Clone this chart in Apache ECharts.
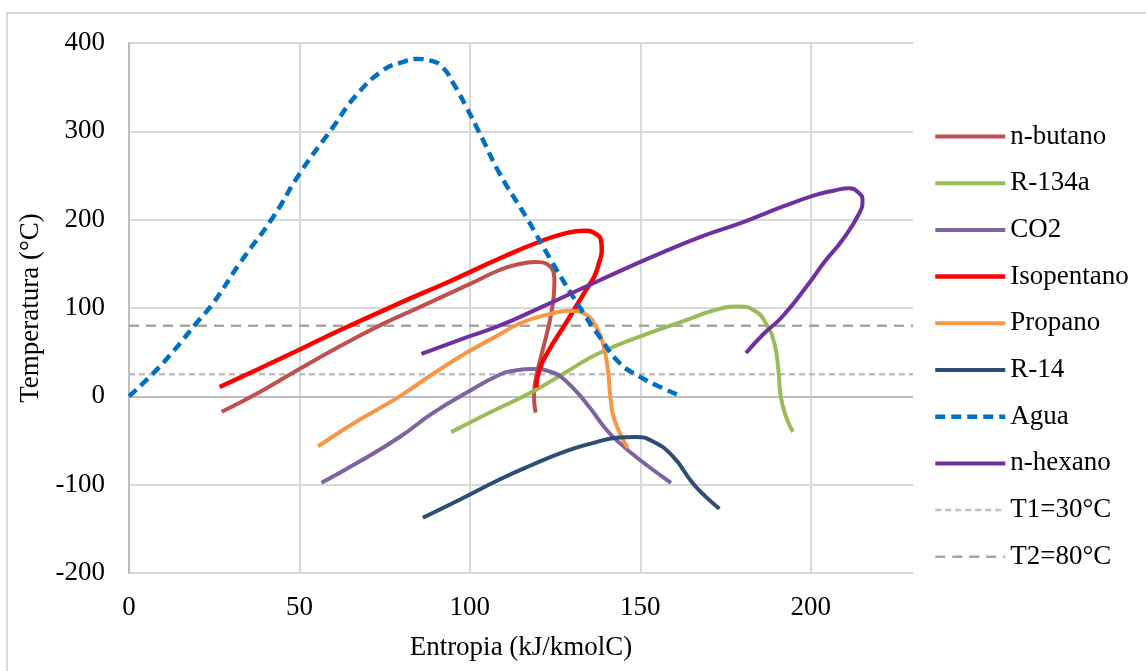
<!DOCTYPE html>
<html>
<head>
<meta charset="utf-8">
<script src="https://cdn.jsdelivr.net/npm/echarts@6/dist/echarts.min.js"></script>
<style>
html, body { margin: 0; padding: 0; background: #fff; }
#main { width: 1146px; height: 671px; }
</style>
</head>
<body>
<div id="main"></div>
<script>
// datos [entropia, temperatura]
var nButano = [[27.2,-17.5],[38,4],[49.1,29],[62,57],[74.5,82],[85.3,101],[99.9,127],[108.7,143],[113.6,149],[119.3,152],[122.9,149],[124.8,130],[124.6,113],[123.3,83],[121.4,53],[119.5,22.6],[118.8,0],[119.3,-18.5]];
var r134a = [[94.5,-40.5],[106,-18],[118.5,5.5],[128,27],[138,49],[152.6,71.6],[162.4,84.8],[172.2,98],[179,101.7],[183.9,96],[186.8,83],[189.3,60.3],[190.5,30.2],[191.2,0],[192.7,-22.6],[194.8,-40.5]];
var co2 = [[56.5,-97.9],[68,-73],[79.4,-46],[89.2,-18.8],[99,4],[108.7,24.5],[113,29],[118.5,31],[123.3,28.2],[127.2,20.8],[134.1,-7.5],[140,-37.6],[143.9,-52.7],[149.7,-71.5],[159,-97.9]];
var isopentano = [[26.6,10.6],[38,31],[50.1,53],[62,75],[79.4,105.5],[94,130],[108.7,156],[120.4,175],[128,184.5],[133.6,187.5],[136.5,185],[138.5,176],[138.7,165],[137.8,150],[136.5,135.6],[134.1,120.6],[128.2,83],[123.3,52.8],[120.4,30],[119.5,10]];
var propano = [[55.5,-56.5],[67,-28],[79.4,0],[89,25],[98.9,49],[108.7,70],[115,83],[123.3,93],[129.2,96.8],[134.1,92.3],[137,79],[139,60.3],[140.5,30],[141.2,0],[142.4,-26.3],[146.3,-58.3]];
var r14 = [[86.2,-137.4],[97,-117],[108.7,-94.1],[118,-78],[128.2,-62.1],[136,-53],[142.9,-47],[148.7,-45.9],[153.6,-50.8],[159.5,-67.8],[165.3,-97.9],[169,-113],[173.2,-127.2]];
var agua = [[0,0],[7.1,26],[13,51],[19.8,83],[24.7,105.5],[32.5,150.7],[42.3,203],[50.1,252.4],[59.9,305],[66.7,341],[74.5,369],[80,378],[84.3,382],[88.5,380],[92.1,372],[95.5,352],[98.9,328],[103.5,293],[108.7,252.4],[116.5,203],[124.3,150.7],[132.1,101.7],[138,67.8],[143.9,37.7],[149.7,22.6],[155,12],[160.9,2]];
var nHexano = [[85.8,48.2],[97,64],[108.7,80],[121,101],[134.1,124.3],[143,140],[152.6,156.4],[167.3,180],[180,197],[191.7,214.7],[201.5,228],[207,233],[211.2,235.5],[214.2,230],[215.2,222],[214.2,207],[209.3,177],[204,152],[199.5,128],[191.7,90.4],[186,70],[181,49]];
var t1 = [[0,25],[230,25]];
var t2 = [[0,80],[230,80]];

var nombres = ['n-butano','R-134a','CO2','Isopentano','Propano','R-14','Agua','n-hexano','T1=30°C','T2=80°C'];
var colores = ['#C0504D','#9BBB59','#8064A2','#FF0000','#F79646','#2C4D75','#0070C0','#7030A0','#BFBFBF','#A6A6A6'];
var datos = [nButano, r134a, co2, isopentano, propano, r14, agua, nHexano, t1, t2];

var fuente = 'Liberation Serif';
var myChart = echarts.init(document.getElementById('main'));

var series = [];
var leyenda = [];
for (var i = 0; i < nombres.length; i++) {
    var tipo = 'solid';
    var ancho = 4;
    if (nombres[i] == 'Agua') { tipo = [10, 6]; ancho = 4.5; }
    if (nombres[i] == 'Isopentano') { ancho = 4.5; }
    if (i == 8) { tipo = [6, 4]; ancho = 2.5; }
    if (i == 9) { tipo = [10, 7]; ancho = 2.5; }
    series.push({
        name: nombres[i],
        type: 'line',
        data: datos[i],
        smooth: i < 8 ? 0.5 : false,
        symbol: 'none',
        color: colores[i],
        lineStyle: { color: colores[i], width: ancho, type: tipo },
        z: i < 8 ? 3 : 2
    });
    leyenda.push({
        name: nombres[i],
        lineStyle: { color: colores[i], width: ancho, type: tipo }
    });
}
// linea del eje en 0
series[0].markLine = {
    silent: true,
    symbol: 'none',
    label: { show: false },
    lineStyle: { color: '#BFBFBF', width: 2, type: 'solid' },
    z: 1,
    data: [{ yAxis: 0 }]
};

var option = {
    backgroundColor: '#fff',
    animation: false,
    textStyle: { fontFamily: fuente, color: '#000' },
    graphic: [{
        type: 'rect',
        shape: { x: 7, y: 13, width: 1150, height: 670 },
        style: { fill: 'none', stroke: '#D9D9D9', lineWidth: 2 },
        silent: true
    }],
    grid: { left: 129, top: 43, right: 233, bottom: 98, containLabel: false },
    legend: {
        orient: 'vertical',
        left: 933,
        top: 123,
        padding: 0,
        itemWidth: 70,
        itemHeight: 14,
        itemGap: 19.7,
        data: leyenda,
        itemStyle: { opacity: 0 },
        textStyle: { fontFamily: fuente, fontSize: 27, lineHeight: 27, color: '#000' }
    },
    xAxis: {
        type: 'value',
        min: 0,
        max: 230,
        interval: 50,
        name: 'Entropia (kJ/kmolC)',
        nameLocation: 'middle',
        nameGap: 61,
        nameTextStyle: { fontFamily: fuente, fontSize: 27, color: '#000' },
        axisLine: { show: false },
        axisTick: { show: false },
        axisLabel: { fontFamily: fuente, fontSize: 27, color: '#000', margin: 21, showMaxLabel: false },
        splitLine: { show: true, showMaxLine: false, lineStyle: { color: '#D9D9D9', width: 2 } }
    },
    yAxis: {
        type: 'value',
        min: -200,
        max: 400,
        interval: 100,
        name: 'Temperatura (°C)',
        nameLocation: 'middle',
        nameGap: 80,
        nameTextStyle: { fontFamily: fuente, fontSize: 27, color: '#000' },
        axisLine: { show: true, lineStyle: { color: '#BFBFBF', width: 2 } },
        axisTick: { show: false },
        axisLabel: { fontFamily: fuente, fontSize: 27, color: '#000', margin: 24 },
        splitLine: { show: true, lineStyle: { color: '#D9D9D9', width: 2 } }
    },
    series: series
};

myChart.setOption(option);
window.addEventListener('resize', function () {
    myChart.resize();
});
</script>
</body>
</html>
